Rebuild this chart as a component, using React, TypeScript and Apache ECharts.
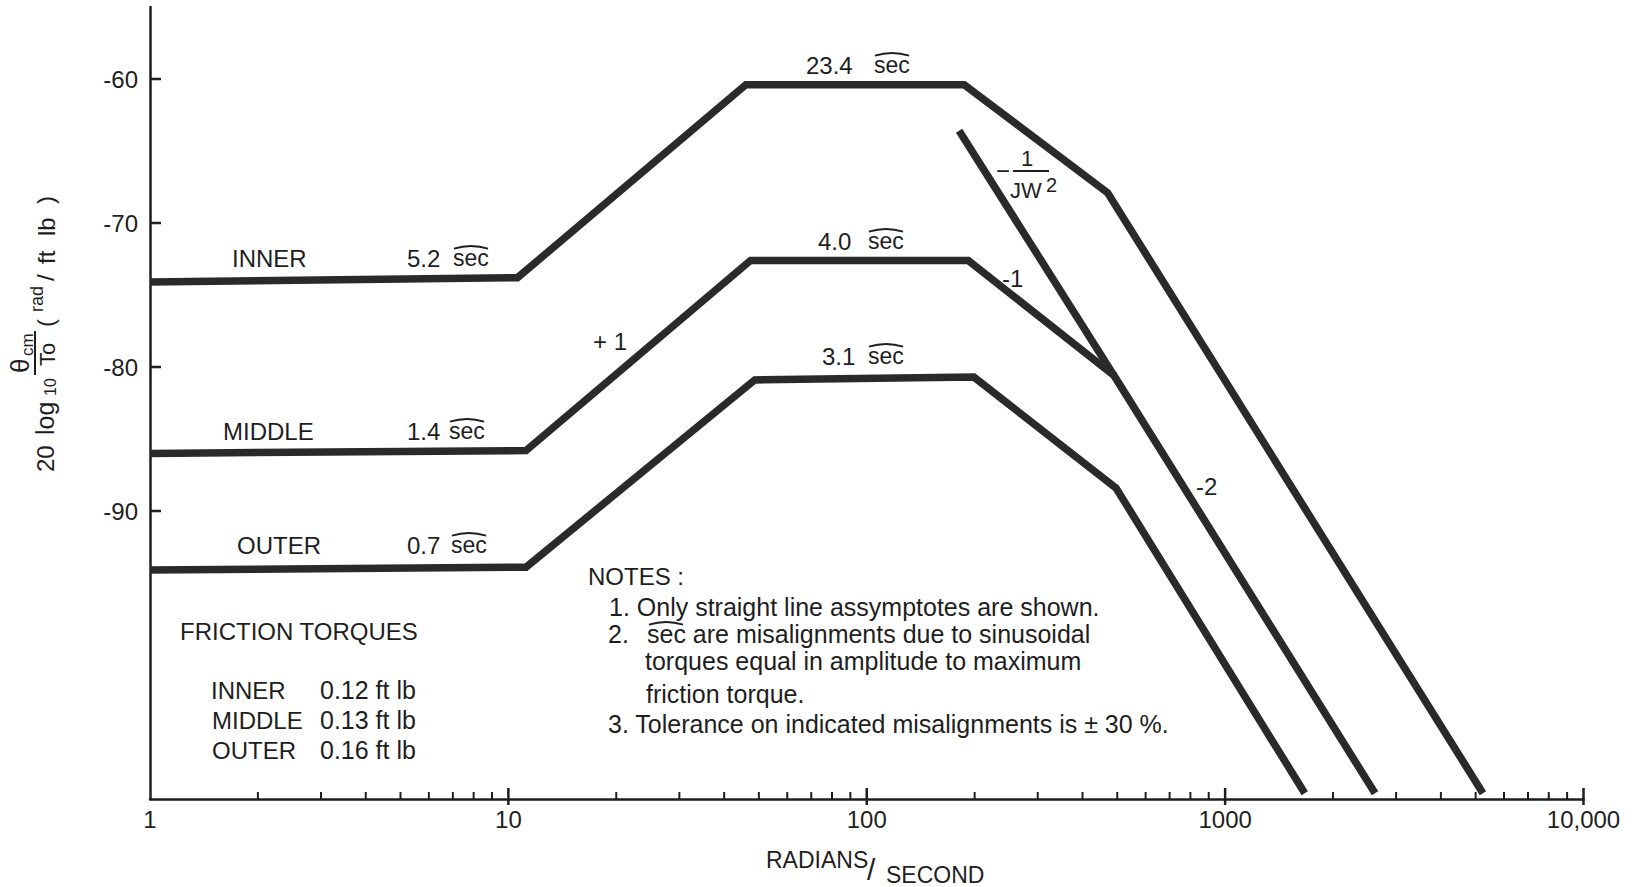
import React, { useEffect, useRef } from "react";
import * as echarts from "echarts";

// ---- data (frequency in rad/s, level in dB) ----
const innerFreq = [1, 10.6, 46, 187, 470, 5240];
const innerDb = [-74.1, -73.8, -60.4, -60.4, -67.9, -109.6];
const middleFreq = [1, 11.2, 47.4, 192, 490, 2620];
const middleDb = [-86.0, -85.8, -72.6, -72.6, -80.6, -109.6];
const outerFreq = [1, 11.2, 48.7, 199, 496, 1668];
const outerDb = [-94.1, -93.9, -80.9, -80.7, -88.4, -109.6];
const inertiaFreq = [181, 490];
const inertiaDb = [-63.6, -80.6];

const xTickValues = [1, 10, 100, 1000, 10000];
const xTickLabels = ["1", "10", "100", "1000", "10,000"];
const xMinorTicks = [
  2, 3, 4, 5, 6, 7, 8, 9,
  20, 30, 40, 50, 60, 70, 80, 90,
  200, 300, 400, 500, 600, 700, 800, 900,
  2000, 3000, 4000, 5000, 6000, 7000, 8000, 9000,
];
const yTickValues = [-60, -70, -80, -90];
const yTickLabels = ["-60", "-70", "-80", "-90"];

const INK = "#1e1e1e";
const CURVE = "#2a2a2a";
const FONT = '"Liberation Sans", Arial, sans-serif';

function txt(text: string, x: number, y: number, size = 24, align = "left") {
  return {
    type: "text",
    x,
    y,
    silent: true,
    style: {
      text,
      fill: INK,
      fontSize: size,
      fontFamily: FONT,
      align,
      verticalAlign: "middle",
      textAlign: align,
      textVerticalAlign: "middle",
    },
  };
}

function arcOver(cx: number, apexY: number) {
  const r = 56;
  return {
    type: "arc",
    silent: true,
    shape: {
      cx,
      cy: apexY + r,
      r,
      startAngle: -Math.PI / 2 - 0.31,
      endAngle: -Math.PI / 2 + 0.31,
      clockwise: true,
    },
    style: { stroke: INK, lineWidth: 2, fill: "none" },
  };
}

function secLabel(num: string, numX: number, secX: number, cy: number) {
  return [
    txt(num, numX, cy, 24),
    txt("sec", secX, cy, 23),
    arcOver(secX + 18, cy - 12),
  ];
}

function hline(x1: number, x2: number, y: number, w = 2) {
  return {
    type: "line",
    silent: true,
    shape: { x1, y1: y, x2, y2: y },
    style: { stroke: INK, lineWidth: w },
  };
}

function pairs(xs: number[], ys: number[]) {
  return xs.map((x, i) => [x, ys[i]]);
}

function curve(name: string, xs: number[], ys: number[]) {
  return {
    name,
    type: "line",
    data: pairs(xs, ys),
    symbol: "none",
    silent: true,
    clip: false,
    lineStyle: { color: CURVE, width: 7.5, join: "miter", cap: "butt" },
    z: 3,
  };
}

function yAxisTitle() {
  const t = (text: string, x: number, y: number, size: number) => ({
    type: "text",
    x,
    y,
    silent: true,
    style: {
      text,
      fill: INK,
      fontSize: size,
      fontFamily: FONT,
      align: "left",
      verticalAlign: "middle",
      textAlign: "left",
      textVerticalAlign: "middle",
    },
  });
  return {
    type: "group",
    x: 45,
    y: 472,
    rotation: Math.PI / 2,
    silent: true,
    children: [
      t("20", 0, 0, 24),
      t("log", 37, 0, 25),
      t("10", 76, 5, 16),
      t("θ", 99, -25, 26),
      t("cm", 116, -18, 17),
      { type: "line", shape: { x1: 97, y1: -10, x2: 141, y2: -10 }, style: { stroke: INK, lineWidth: 2 } },
      t("To", 106, 2, 22),
      t("(", 145, 0, 24),
      t("rad", 160, -8, 18),
      t("/", 191, 0, 24),
      t("ft", 208, 1, 24),
      t("lb", 236, 1, 24),
      t(")", 268, 0, 24),
    ],
  };
}

export default function App() {
  const ref = useRef<HTMLDivElement>(null);

  useEffect(() => {
    document.body.style.margin = "0";
    document.body.style.overflow = "hidden";
    if (!ref.current) return;
    const chart = echarts.init(ref.current, null, { renderer: "svg" });

    const isMajor = (v: number, t: number) => Math.abs(Math.log10(v) - Math.log10(t)) < 1e-6;

    const xTickData = [
      ...xTickValues.slice(1).map((v) => [v, -110, 1]),
      ...xMinorTicks.map((v) => [v, -110, 0]),
    ];
    const yTickData = yTickValues.map((v) => [1, v]);

    const graphic: any[] = [
      // curve annotations
      txt("INNER", 232, 258),
      ...secLabel("5.2", 407, 453, 258),
      txt("MIDDLE", 223, 431),
      ...secLabel("1.4", 407, 449, 431),
      txt("OUTER", 237, 545),
      ...secLabel("0.7", 407, 451, 545),
      ...secLabel("23.4", 806, 874, 65),
      ...secLabel("4.0", 818, 868, 241),
      ...secLabel("3.1", 822, 868, 356),
      txt("+ 1", 593, 341),
      txt("-1", 1002, 278),
      txt("-2", 1196, 486),
      // - 1 / JW^2
      txt("−", 996, 170, 24),
      txt("1", 1027, 158, 22, "center"),
      hline(1013, 1049, 171, 2),
      txt("JW", 1010, 190, 22),
      txt("2", 1046, 185, 20),
      // friction torques block
      txt("FRICTION TORQUES", 180, 631),
      txt("INNER", 211, 690),
      txt("0.12 ft lb", 320, 690, 25),
      txt("MIDDLE", 212, 720),
      txt("0.13 ft lb", 320, 720, 25),
      txt("OUTER", 212, 750),
      txt("0.16 ft lb", 320, 750, 25),
      // notes
      txt("NOTES :", 588, 576, 24),
      txt("1. Only straight line assymptotes are shown.", 609, 607, 25),
      txt("2.", 608, 634, 25),
      txt("sec are misalignments due to sinusoidal", 647, 634, 25),
      arcOver(666, 622),
      txt("torques equal in amplitude to maximum", 645, 661, 25),
      txt("friction torque.", 646, 694, 25),
      txt("3. Tolerance on indicated misalignments is ± 30 %.", 608, 724, 25),
      // x axis title
      txt("RADIANS", 766, 860, 23),
      txt("/", 867, 869, 30),
      txt("SECOND", 886, 875, 23),
      yAxisTitle(),
    ];

    chart.setOption({
      animation: false,
      backgroundColor: "#ffffff",
      grid: { left: 150, right: 58.5, top: 7, bottom: 88, containLabel: false },
      xAxis: {
        type: "log",
        logBase: 10,
        min: 1,
        max: 10000,
        axisLine: { show: true, lineStyle: { color: INK, width: 2.5 } },
        axisTick: { show: false },
        minorTick: { show: false },
        splitLine: { show: false },
        minorSplitLine: { show: false },
        axisLabel: {
          color: INK,
          fontSize: 24,
          fontFamily: FONT,
          margin: 8,
          formatter: (v: number) => {
            const i = xTickValues.findIndex((t) => isMajor(v, t));
            return i >= 0 ? xTickLabels[i] : "";
          },
        },
      },
      yAxis: {
        type: "value",
        min: -110,
        max: -55,
        interval: 10,
        axisLine: { show: true, onZero: false, lineStyle: { color: INK, width: 2.5 } },
        axisTick: { show: false },
        splitLine: { show: false },
        axisLabel: {
          color: INK,
          fontSize: 24,
          fontFamily: FONT,
          margin: 12,
          formatter: (v: number) => {
            const i = yTickValues.indexOf(v);
            return i >= 0 ? yTickLabels[i] : "";
          },
        },
      },
      series: [
        curve("INNER", innerFreq, innerDb),
        curve("MIDDLE", middleFreq, middleDb),
        curve("OUTER", outerFreq, outerDb),
        curve("-1/JW²", inertiaFreq, inertiaDb),
        {
          type: "custom",
          name: "xticks",
          coordinateSystem: "cartesian2d",
          silent: true,
          clip: false,
          encode: { x: 0, y: 1 },
          data: xTickData,
          renderItem: (params: any, api: any) => {
            const p = api.coord([api.value(0), api.value(1)]);
            const major = api.value(2) === 1;
            return {
              type: "line",
              shape: { x1: p[0], y1: p[1] + (major ? 6 : 0), x2: p[0], y2: p[1] - (major ? 11 : 7) },
              style: { stroke: INK, lineWidth: major ? 2.5 : 2 },
            };
          },
          z: 2,
        },
        {
          type: "custom",
          name: "yticks",
          coordinateSystem: "cartesian2d",
          silent: true,
          clip: false,
          encode: { x: 0, y: 1 },
          data: yTickData,
          renderItem: (params: any, api: any) => {
            const p = api.coord([api.value(0), api.value(1)]);
            return {
              type: "line",
              shape: { x1: p[0], y1: p[1], x2: p[0] + 11, y2: p[1] },
              style: { stroke: INK, lineWidth: 2.5 },
            };
          },
          z: 2,
        },
      ],
      graphic,
    });

    return () => chart.dispose();
  }, []);

  return <div ref={ref} style={{ width: 1642, height: 887 }} />;
}
